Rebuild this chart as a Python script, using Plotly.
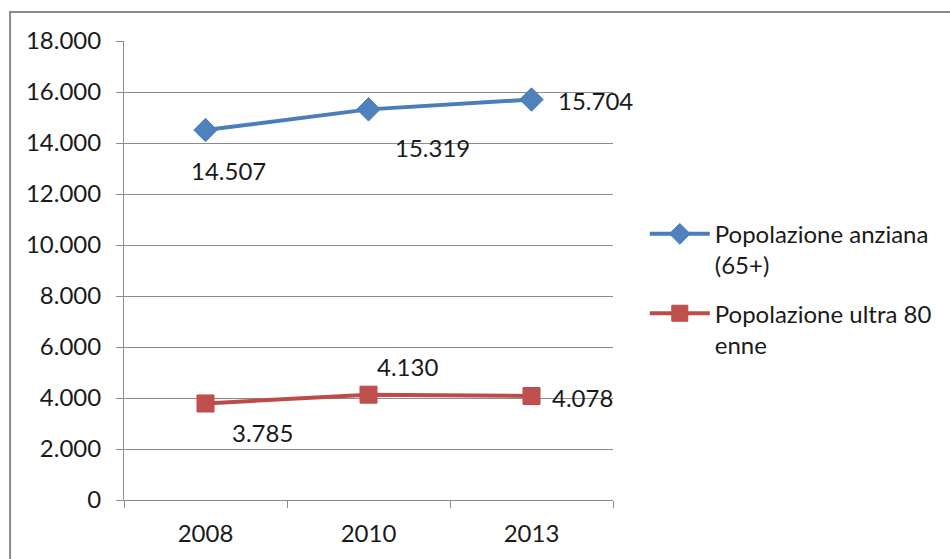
import plotly.graph_objects as go

# Years on the category axis
years = ["2008", "2010", "2013"]

# Population counts
anziani_65 = [14507, 15319, 15704]
ultra_80 = [3785, 4130, 4078]

# Value labels shown next to each point
labels_65 = ["14.507", "15.319", "15.704"]
labels_80 = ["3.785", "4.130", "4.078"]

# Y axis ticks
y_ticks = [0, 2000, 4000, 6000, 8000, 10000, 12000, 14000, 16000, 18000]
y_tick_text = ["0", "2.000", "4.000", "6.000", "8.000", "10.000", "12.000",
               "14.000", "16.000", "18.000"]

FONT = "Lato"
FS = 24
TXT = "#1a1a1a"
GRID = "#8c8c8c"

fig = go.Figure()

fig.add_trace(go.Scatter(
    x=years, y=anziani_65, mode="lines+markers",
    name="Popolazione anziana<br>(65+)", legendgroup="a",
    line=dict(color="#4A7EBB", width=4),
    marker=dict(symbol="diamond", size=18, color="#4F81BD",
                line=dict(color="#4A7EBB", width=1)),
))
fig.add_trace(go.Scatter(
    x=years, y=ultra_80, mode="lines+markers",
    name="Popolazione ultra 80<br>enne", legendgroup="b",
    line=dict(color="#BE4B48", width=4),
    marker=dict(symbol="square", size=17, color="#C0504D",
                line=dict(color="#BE4B48", width=1)),
))

# Data labels, offset in pixels from their points
# (category index used as x so numeric-looking names are not read as indices)
offsets_65 = [(23, -40), (64, -38), (64, -1)]
offsets_80 = [(57, -29), (39, 28), (51, -1)]
for i, (v, t, (dx, dy)) in enumerate(zip(anziani_65, labels_65, offsets_65)):
    fig.add_annotation(x=i, y=v, text=t, showarrow=False, xshift=dx, yshift=dy,
                       font=dict(family=FONT, size=FS, color=TXT))
for i, (v, t, (dx, dy)) in enumerate(zip(ultra_80, labels_80, offsets_80)):
    fig.add_annotation(x=i, y=v, text=t, showarrow=False, xshift=dx, yshift=dy,
                       font=dict(family=FONT, size=FS, color=TXT))

# Outer chart frame
fig.add_shape(type="rect", xref="paper", yref="paper",
              x0=-0.233, x1=2.0, y0=-0.3, y1=1.063,
              line=dict(color="#8a8a8a", width=2), layer="below")

fig.update_layout(
    width=950, height=559,
    margin=dict(l=124, r=337, t=41, b=57),
    paper_bgcolor="white", plot_bgcolor="white",
    font=dict(family=FONT, size=FS, color=TXT),
    showlegend=True,
    legend=dict(x=1.065, y=0.628, xanchor="left", yanchor="top",
                font=dict(family=FONT, size=FS, color=TXT),
                traceorder="grouped", tracegroupgap=14,
                itemwidth=60, valign="top",
                bgcolor="rgba(0,0,0,0)"),
)

fig.update_xaxes(
    type="category", range=[-0.5, 2.5],
    showline=True, linecolor=GRID, linewidth=1,
    ticks="outside", tickson="boundaries", ticklen=7, tickcolor=GRID,
    showgrid=False, ticklabelstandoff=12,
    tickfont=dict(family=FONT, size=FS, color=TXT),
)
fig.update_yaxes(
    range=[0, 18000], tickvals=y_ticks, ticktext=y_tick_text,
    showline=True, linecolor=GRID, linewidth=1,
    ticks="outside", ticklen=7, tickcolor=GRID,
    showgrid=True, gridcolor=GRID, gridwidth=1, zeroline=False,
    ticklabelstandoff=10,
    tickfont=dict(family=FONT, size=FS, color=TXT),
)

fig.write_html("out.html")
